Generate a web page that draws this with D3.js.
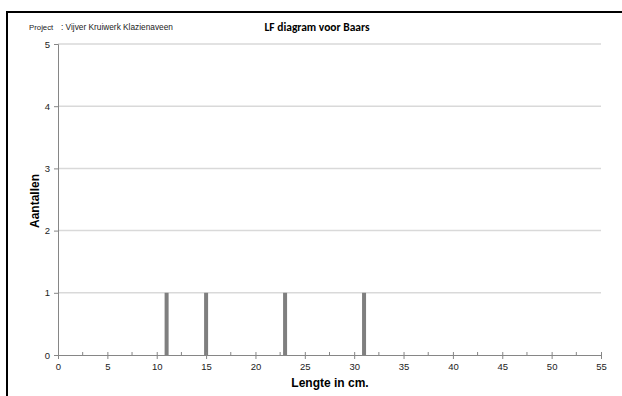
<!DOCTYPE html>
<html>
<head>
<meta charset="utf-8">
<script src="https://cdn.jsdelivr.net/npm/d3@7"></script>
<style>
  html, body { margin: 0; padding: 0; background: #fff; }
  svg { display: block; }
</style>
</head>
<body>
<svg id="chart" width="622" height="396"></svg>
<script>
// Length-frequency data for perch (Baars)
const lengths = [11, 15, 23, 31];
const counts = [1, 1, 1, 1];
const xTicks = [0, 5, 10, 15, 20, 25, 30, 35, 40, 45, 50, 55];
const xMinorTicks = [2.5, 7.5, 12.5, 17.5, 22.5, 27.5, 32.5, 37.5, 42.5, 47.5, 52.5];
const yTicks = [0, 1, 2, 3, 4, 5];

(function () {
const svg = d3.select("#chart");
const W = 622, H = 396;
const plotLeft = 58, plotRight = 601, plotTop = 44, plotBottom = 355;
const sans = "Arial, 'Liberation Sans', sans-serif";

// Outer frame (clipped at right and bottom)
svg.append("path")
  .attr("d", `M7,${H + 2} V12 H${W + 2}`)
  .attr("fill", "none")
  .attr("stroke", "#000")
  .attr("stroke-width", 2);

const x = d3.scaleLinear().domain([0, 55]).range([plotLeft, plotRight]);
const y = d3.scaleLinear().domain([0, 5]).range([plotBottom, plotTop]);

// Horizontal gridlines
svg.append("g")
  .selectAll("line")
  .data(yTicks.filter(d => d > 0))
  .join("line")
  .attr("x1", plotLeft).attr("x2", plotRight)
  .attr("y1", d => y(d)).attr("y2", d => y(d))
  .attr("stroke", "#d9d9d9")
  .attr("stroke-width", 1.5);

// Bars
svg.append("g")
  .selectAll("rect")
  .data(lengths.map((l, i) => ({ l, c: counts[i] })))
  .join("rect")
  .attr("x", d => x(d.l) - 2)
  .attr("width", 4)
  .attr("y", d => y(d.c))
  .attr("height", d => y(0) - y(d.c))
  .attr("fill", "#7f7f7f");

// Y axis
const yAxis = d3.axisLeft(y).tickValues(yTicks).tickSize(4).tickPadding(4).tickFormat(d3.format("d"));
const gy = svg.append("g").attr("transform", `translate(${plotLeft},0)`).call(yAxis);
gy.select(".domain").attr("stroke", "#868686");
gy.selectAll(".tick line").attr("stroke", "#868686");
gy.selectAll("text").attr("font-family", sans).attr("font-size", 9.5).attr("fill", "#222");

// X axis with major ticks
const xAxis = d3.axisBottom(x).tickValues(xTicks).tickSize(4).tickPadding(4).tickSizeOuter(0);
const gx = svg.append("g").attr("transform", `translate(0,${plotBottom})`).call(xAxis);
gx.select(".domain").attr("stroke", "#868686");
gx.selectAll(".tick line").attr("stroke", "#868686").attr("y1", -3);
gx.selectAll("text").attr("font-family", sans).attr("font-size", 9.5).attr("fill", "#222");

// Minor ticks on x axis
svg.append("g")
  .selectAll("line")
  .data(xMinorTicks)
  .join("line")
  .attr("x1", d => x(d)).attr("x2", d => x(d))
  .attr("y1", plotBottom - 3).attr("y2", plotBottom)
  .attr("stroke", "#868686");

// Titles and labels
svg.append("text")
  .attr("x", 29).attr("y", 30)
  .attr("font-family", sans)
  .attr("font-size", 7.8)
  .attr("fill", "#222")
  .text("Project");

svg.append("text")
  .attr("x", 61).attr("y", 30)
  .attr("font-family", sans)
  .attr("font-size", 8.3)
  .attr("fill", "#222")
  .text(": Vijver Kruiwerk Klazienaveen");

svg.append("text")
  .attr("x", 317).attr("y", 31)
  .attr("text-anchor", "middle")
  .attr("font-family", "Carlito, Calibri, 'Open Sans', sans-serif")
  .attr("font-weight", "bold")
  .attr("font-size", 11.5)
  .attr("fill", "#000")
  .text("LF diagram voor Baars");

svg.append("text")
  .attr("transform", "translate(39,201) rotate(-90)")
  .attr("text-anchor", "middle")
  .attr("font-family", sans)
  .attr("font-weight", "bold")
  .attr("font-size", 12)
  .attr("fill", "#000")
  .text("Aantallen");

svg.append("text")
  .attr("x", 330).attr("y", 387)
  .attr("text-anchor", "middle")
  .attr("font-family", sans)
  .attr("font-weight", "bold")
  .attr("font-size", 12)
  .attr("fill", "#000")
  .text("Lengte in cm.");
})();
</script>
</body>
</html>
